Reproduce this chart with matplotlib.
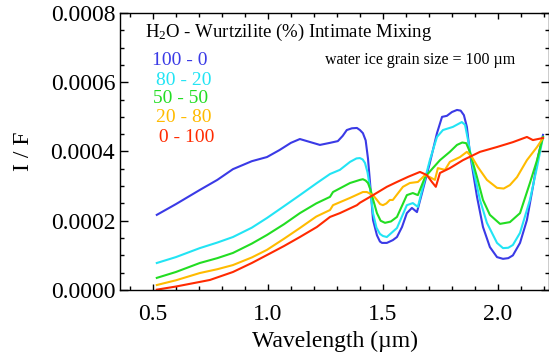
import matplotlib
matplotlib.use("Agg")
import matplotlib.pyplot as plt
from matplotlib.ticker import MultipleLocator, FormatStrFormatter

plt.rcParams['font.family'] = ['Liberation Serif', 'DejaVu Serif']
plt.rcParams['mathtext.fontset'] = 'custom'
plt.rcParams['mathtext.rm'] = 'Liberation Serif'
plt.rcParams['mathtext.it'] = 'Liberation Serif:italic'

# mixing ratios (H2O - Wurtzilite %)
labels = ["100 - 0", "80 - 20", "50 - 50", "20 - 80", " 0 - 100"]
colors = ["#3a3ae6", "#22e4f4", "#22dd22", "#ffbb00", "#ff2a00"]

# 100 - 0
wl_100 = [0.517, 0.60, 0.704, 0.78, 0.848, 0.93, 0.996, 1.05, 1.10, 1.139, 1.18, 1.226,
          1.27, 1.304, 1.325, 1.343, 1.365, 1.387, 1.40, 1.413, 1.425, 1.435, 1.443, 1.457,
          1.474, 1.487, 1.496, 1.517, 1.543, 1.561, 1.583, 1.604, 1.626, 1.648, 1.67,
          1.704, 1.735, 1.757, 1.778, 1.80, 1.822, 1.838, 1.852, 1.865, 1.878, 1.909,
          1.935, 1.965, 1.996, 2.022, 2.045, 2.065, 2.096, 2.126, 2.152, 2.174, 2.196]
if_100 = [0.000217, 0.000248, 0.000289, 0.000318, 0.000349, 0.000372, 0.000384, 0.000404,
          0.000425, 0.000436, 0.000428, 0.000419, 0.000425, 0.00043, 0.000445, 0.000462,
          0.000467, 0.000468, 0.000462, 0.000453, 0.000432, 0.000380, 0.000318, 0.000202,
          0.000158, 0.000140, 0.000136, 0.000136, 0.000144, 0.000153, 0.000182, 0.000222,
          0.000237, 0.000225, 0.00028, 0.000367, 0.000453, 0.0005, 0.000503, 0.000514,
          0.00052, 0.000518, 0.000505, 0.000471, 0.000396, 0.000269, 0.000182, 0.000124,
          0.000095, 0.00009, 0.000092, 0.0001, 0.000136, 0.000202, 0.000298, 0.000384,
          0.000448]

# 80 - 20
wl_80 = [0.517, 0.60, 0.704, 0.78, 0.848, 0.93, 0.996, 1.07, 1.139, 1.213, 1.27, 1.313,
         1.357, 1.385, 1.40, 1.412, 1.422, 1.433, 1.443, 1.457, 1.472, 1.487, 1.50, 1.517,
         1.561, 1.604, 1.63, 1.652, 1.674, 1.704, 1.735, 1.761, 1.804, 1.843, 1.857, 1.87,
         1.891, 1.922, 1.952, 1.996, 2.022, 2.045, 2.065, 2.096, 2.139, 2.17, 2.196]
if_80 = [0.000078, 0.000095, 0.000121, 0.000137, 0.000153, 0.000180, 0.000208, 0.000242,
         0.000274, 0.000309, 0.000335, 0.000347, 0.000370, 0.000380, 0.000381, 0.000377,
         0.000367, 0.000340, 0.000298, 0.000222, 0.000180, 0.000162, 0.000156, 0.000153,
         0.000179, 0.000245, 0.000251, 0.00024, 0.000298, 0.000375, 0.000442, 0.000462,
         0.000471, 0.000485, 0.000477, 0.000433, 0.000355, 0.00026, 0.000194, 0.000136,
         0.000121, 0.000122, 0.00013, 0.000165, 0.00026, 0.000355, 0.000442]

# 50 - 50
wl_50 = [0.517, 0.60, 0.704, 0.78, 0.848, 0.93, 0.996, 1.07, 1.139, 1.21, 1.27, 1.283,
         1.357, 1.40, 1.413, 1.425, 1.435, 1.446, 1.457, 1.474, 1.49, 1.509, 1.535, 1.561,
         1.604, 1.63, 1.652, 1.683, 1.717, 1.748, 1.791, 1.822, 1.845, 1.862, 1.878, 1.909,
         1.935, 1.965, 2.009, 2.052, 2.096, 2.139, 2.17, 2.196]
if_50 = [0.000035, 0.000052, 0.000078, 0.000092, 0.000107, 0.000134, 0.000159, 0.000190,
         0.000222, 0.000250, 0.000269, 0.000283, 0.000309, 0.000318, 0.00032, 0.000316,
         0.000309, 0.00029, 0.000262, 0.000222, 0.000200, 0.000194, 0.000198, 0.000211,
         0.000274, 0.00028, 0.000274, 0.000326, 0.000352, 0.000375, 0.000399, 0.000419,
         0.000426, 0.000424, 0.000399, 0.000326, 0.00026, 0.000217, 0.000191, 0.000196,
         0.000222, 0.000309, 0.000375, 0.000442]

# 20 - 80
wl_20 = [0.517, 0.60, 0.704, 0.78, 0.848, 0.93, 0.996, 1.07, 1.139, 1.21, 1.27, 1.283,
         1.357, 1.413, 1.43, 1.457, 1.474, 1.488, 1.50, 1.515, 1.53, 1.543, 1.587, 1.617,
         1.652, 1.683, 1.704, 1.726, 1.739, 1.77, 1.791, 1.835, 1.865, 1.887, 1.913,
         1.952, 1.996, 2.025, 2.052, 2.083, 2.126, 2.17, 2.196]
if_20 = [0.0000144, 0.000028, 0.000049, 0.000060, 0.000072, 0.000094, 0.000116, 0.000148,
         0.000179, 0.000212, 0.000231, 0.000245, 0.000266, 0.000283, 0.000283, 0.000274,
         0.00026, 0.000248, 0.000245, 0.000250, 0.00026, 0.00026, 0.000298, 0.000309,
         0.000312, 0.000332, 0.000326, 0.000318, 0.000352, 0.000347, 0.00037, 0.000384,
         0.000399, 0.000384, 0.000355, 0.000318, 0.000295, 0.000293, 0.000303, 0.000326,
         0.000375, 0.000413, 0.000439]

# 0 - 100
wl_0 = [0.517, 0.60, 0.748, 0.848, 0.93, 0.996, 1.07, 1.139, 1.213, 1.27, 1.313, 1.387,
        1.40, 1.457, 1.517, 1.561, 1.61, 1.661, 1.691, 1.713, 1.73, 1.748, 1.791, 1.848,
        1.922, 1.996, 2.065, 2.126, 2.152, 2.196]
if_0 = [0.000001, 0.000010, 0.000029, 0.000052, 0.000078, 0.000101, 0.000127, 0.000153,
        0.000182, 0.000211, 0.000222, 0.000245, 0.000252, 0.000274, 0.000298, 0.000312,
        0.000327, 0.000341, 0.000332, 0.000312, 0.000298, 0.000338, 0.000352, 0.000375,
        0.000399, 0.000413, 0.000427, 0.000442, 0.000433, 0.000439]

series = [(wl_100, if_100), (wl_80, if_80), (wl_50, if_50), (wl_20, if_20), (wl_0, if_0)]

fig = plt.figure(figsize=(5.49, 3.54), dpi=100)
ax = fig.add_axes([120 / 549, 64 / 354, 429 / 549, 277 / 354])

for (wl, vals), c in zip(series, colors):
    ax.plot(wl, vals, color=c, lw=1.5)

ax.set_xlim(0.357, 2.222)
ax.set_ylim(0.0, 0.0008)
ax.xaxis.set_major_locator(MultipleLocator(0.5))
ax.xaxis.set_minor_locator(MultipleLocator(0.1))
ax.yaxis.set_major_locator(MultipleLocator(0.0002))
ax.yaxis.set_minor_locator(MultipleLocator(0.00005))
ax.xaxis.set_major_formatter(FormatStrFormatter('%.1f'))
ax.yaxis.set_major_formatter(FormatStrFormatter('%.4f'))
ax.tick_params(which='both', direction='in', top=True, right=True, labelsize=17, width=1)
ax.tick_params(axis='y', which='major', length=6)
ax.tick_params(axis='x', which='major', length=4, pad=10)
ax.tick_params(which='minor', length=3)
for s in ax.spines.values():
    s.set_linewidth(1)

ax.set_xlabel('Wavelength (µm)', fontsize=17, labelpad=4)
ax.set_ylabel('I / F', fontsize=17, labelpad=12)

# annotations placed in axes fraction
ax.text(0.059, 0.931, 'H$_2$O - Wurtzilite (%) Intimate Mixing', transform=ax.transAxes,
        fontsize=13.5, va='center', ha='left')
ax.text(0.478, 0.83, 'water ice grain size = 100 µm', transform=ax.transAxes,
        fontsize=11.5, va='center', ha='left')
lab_x = [0.075, 0.083, 0.078, 0.083, 0.080]
lab_y = [0.83, 0.758, 0.69, 0.621, 0.552]
for t, c, x, y in zip(labels, colors, lab_x, lab_y):
    ax.text(x, y, t, transform=ax.transAxes, color=c, fontsize=14, va='center', ha='left')

fig.savefig('out.png', dpi=100)
